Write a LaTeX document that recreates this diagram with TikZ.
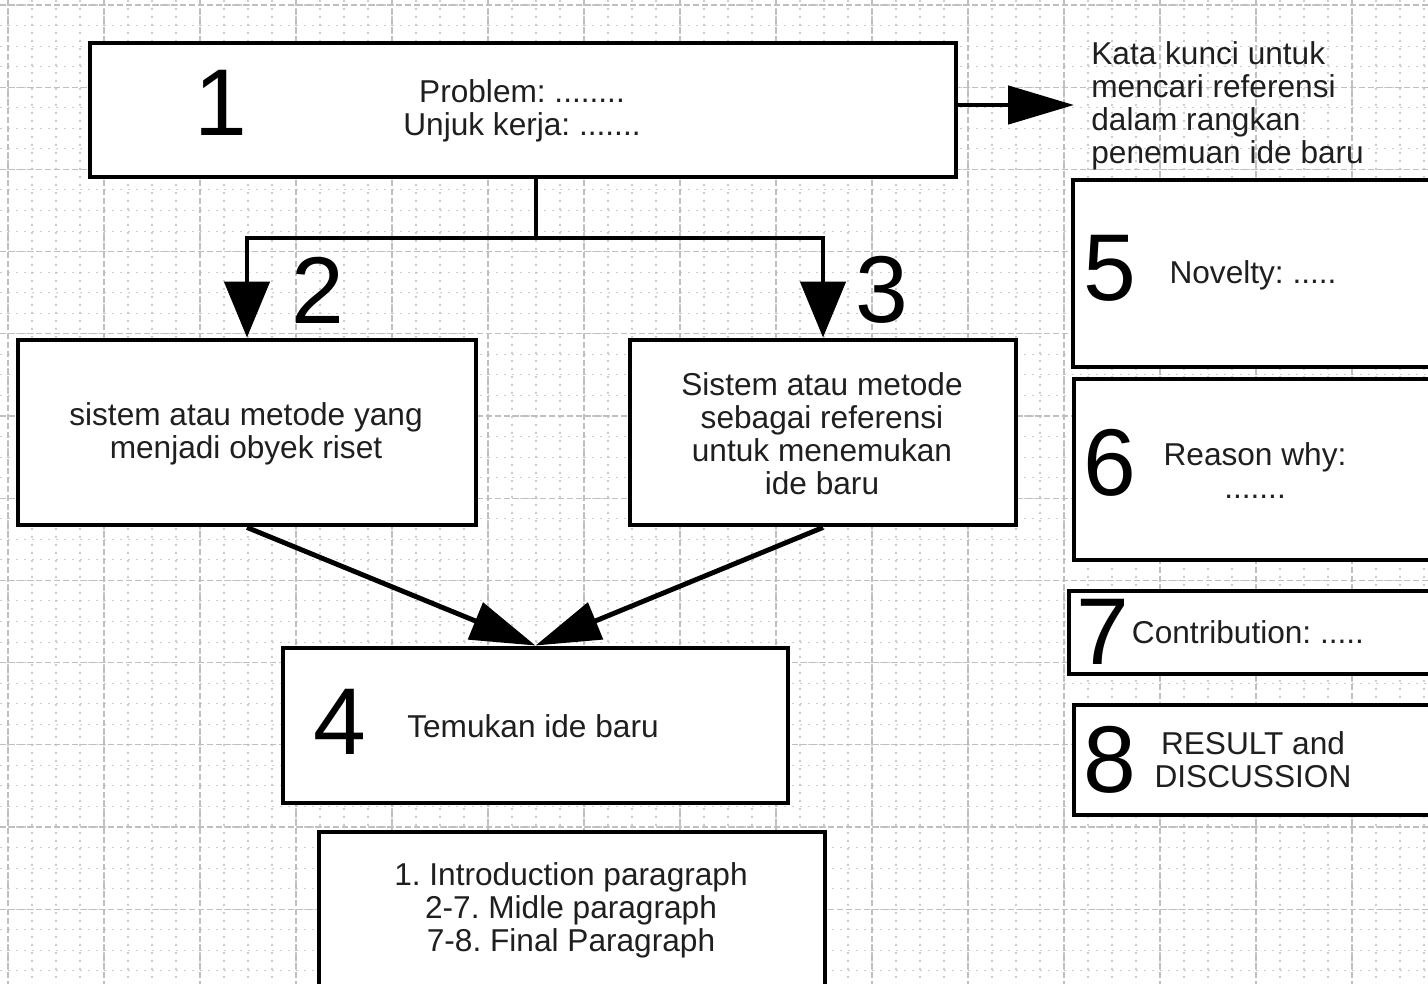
\documentclass[tikz,border=0pt]{standalone}
\usepackage{fontspec}
\setmainfont{Liberation Sans}
\frenchspacing
\usetikzlibrary{positioning}
\usetikzlibrary{calc}
\usetikzlibrary{arrows.meta}

\begin{document}
\begin{tikzpicture} [
    x=0.02cm, y=-0.02cm,        % one unit = one pixel of the sketch
    ]
% -------------------------------------------------
\tikzset{
  boxsize/.style 2 args={minimum width=#1*0.02cm, minimum height=#2*0.02cm},
  rect/.style={draw, line width=2.8pt, rectangle, inner sep=0pt, fill=white},
  txt/.style={inner sep=0pt, align=center, text=black!88,
              font=\fontsize{18}{18.8}\selectfont},
  num/.style={inner sep=0pt, font=\fontsize{54}{54}\selectfont},
  line/.style={draw, line width=2.8pt},
  minorgrid/.style={gray!40, line width=0.6pt, dash pattern=on 0.04cm off 0.12cm},
  majorgrid/.style={gray!50, line width=0.7pt, dash pattern=on 0.12cm off 0.06cm}
}

    \useasboundingbox (0,0) rectangle (1428,984);
    \clip (0,0) rectangle (1428,984);

    % background grid
    \foreach \gx in {-16,8,...,1440} \draw[minorgrid] (\gx,0) -- (\gx,984);
    \foreach \gy in {5,25.55,...,990} \draw[minorgrid] (0,\gy) -- (1428,\gy);
    \foreach \gx in {8,104,...,1400} \draw[majorgrid] (\gx,0) -- (\gx,984);
    \foreach \gy in {5,87.2,...,990} \draw[majorgrid] (0,\gy) -- (1428,\gy);

    % boxes
    \node [rect, boxsize={866}{134}] (prob) at (523,110) {};
    \node [rect, boxsize={458}{185}] (obj)  at (247,432.5) {};
    \node [rect, boxsize={386}{185}] (ref)  at (823,432.5) {};
    \node [rect, boxsize={505}{155}] (ide)  at (535.5,725.5) {};
    \node [rect, boxsize={377}{187}] (nov)  at (1261.5,273.5) {};
    \node [rect, boxsize={376}{181}] (rsn)  at (1262,469.5) {};
    \node [rect, boxsize={381}{83}]  (ctb)  at (1259.5,632.5) {};
    \node [rect, boxsize={376}{110}] (res)  at (1262,760) {};
    \node [rect, boxsize={506}{168}] (par)  at (572,916) {};

    % texts
    \node [txt] (probtxt) at (522,111) {Problem: ........\\Unjuk kerja: .......};
    \node [txt, align=left, anchor=west] (kwtxt) at (1091,106)
          {Kata kunci untuk\\mencari referensi\\dalam rangkan\\penemuan ide baru};
    \node [txt] (objtxt) at (246,434) {sistem atau metode yang\\menjadi obyek riset};
    \node [txt] (reftxt) at (822,434)
          {Sistem atau metode\\sebagai referensi\\untuk menemukan\\ide baru};
    \node [txt] (idetxt) at (533,726) {Temukan ide baru};
    \node [txt] (novtxt) at (1253,275) {Novelty: .....};
    \node [txt] (rsntxt) at (1255,471) {Reason why:\\.......};
    \node [txt] (ctbtxt) at (1248,632) {Contribution: .....};
    \node [txt] (restxt) at (1253,760) {RESULT and\\DISCUSSION};
    \node [txt] (partxt) at (571,910)
          {1. Introduction paragraph\\2-7. Midle paragraph\\7-8. Final Paragraph};

    % step numbers
    \node [num] (n1) at (221,103) {1};
    \node [num] (n2) at (318,290) {2};
    \node [num] (n3) at (882,290) {3};
    \node [num] (n4) at (340,722) {4};
    \node [num] (n5) at (1110,268) {5};
    \node [num] (n6) at (1110,463) {6};
    \node [num] (n7) at (1103,632) {7};
    \node [num] (n8) at (1110,760) {8};

    % connectors
    \coordinate (split) at (536,238);
    \coordinate (kw) at (1074,105);
    \path [line] (split |- prob.south) -- (split);
    \path [line, -{Triangle[length=1.12cm, width=0.9cm]}] (split) -| (obj.north);
    \path [line, -{Triangle[length=1.12cm, width=0.9cm]}] (split) -| (ref.north);
    \path [line, -{Triangle[length=1.32cm, width=0.76cm]}] (prob.east |- kw) -- (kw);
    \path [line, -{Triangle[length=1.3cm, width=0.78cm]}] (obj.south) -- (ide.north);
    \path [line, -{Triangle[length=1.3cm, width=0.78cm]}] (ref.south) -- (ide.north);

\end{tikzpicture}
\end{document}
